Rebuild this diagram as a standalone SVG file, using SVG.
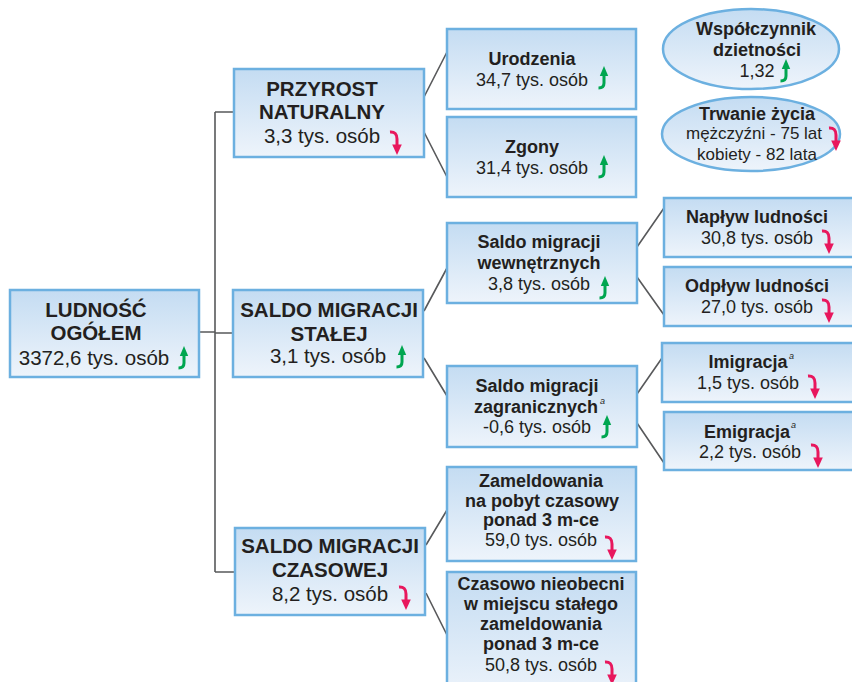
<svg xmlns="http://www.w3.org/2000/svg" xmlns:xlink="http://www.w3.org/1999/xlink" width="852" height="682" viewBox="0 0 852 682">
<style>
.box{fill:url(#g);stroke:#6cb0e0;stroke-width:2.5}
.t{font-family:"Liberation Sans",Arial,sans-serif;fill:#231f20;text-anchor:middle}
.b1{font-size:20.5px;font-weight:bold}
.n1{font-size:20.5px}
.b2{font-size:18px;font-weight:bold}
.n2{font-size:18px}
.n3{font-size:17px}
.sup{font-family:"Liberation Sans",Arial,sans-serif;font-size:9px;font-style:italic;fill:#231f20}
.ln{stroke:#58595b;stroke-width:1.6;fill:none}
</style>
<defs>
<linearGradient id="g" x1="0" y1="0" x2="0" y2="1">
<stop offset="0" stop-color="#c4dcf2"/>
<stop offset="1" stop-color="#eef4fb"/>
</linearGradient>
<symbol id="up" overflow="visible">
<path d="M6,8 L6,17 Q6,22 0.5,22" fill="none" stroke="#00a650" stroke-width="3"/>
<polygon points="1.8,10 6,0 10.2,10" fill="#00a650"/>
</symbol>
<symbol id="dn" overflow="visible">
<path d="M0,2 Q7,1.5 7,9 L7,16" fill="none" stroke="#e8175d" stroke-width="3"/>
<polygon points="2.2,14.5 7,25 11.8,14.5" fill="#e8175d"/>
</symbol>
</defs>
<rect width="852" height="682" fill="#ffffff"/>

<g id="connectors">
<path class="ln" d="M199,332 H215 M215,112 V572 M215,112 H234 M215,333 H233 M215,572 H235"/>
<path class="ln" d="M424,97 L447,52 M424,132 L447,177"/>
<path class="ln" d="M424,311 L447,268 M424,358 L447,396"/>
<path class="ln" d="M426,545 L447,510 M426,593 L447,635"/>
<path class="ln" d="M637,247 L664,208 M637,277 L664,315"/>
<path class="ln" d="M637,394 L662,358 M637,423 L664,463"/>
</g>

<g id="ludnosc">
<rect class="box" x="10" y="290" width="189" height="87"/>
<text class="t b1" x="96" y="317">LUDNOŚĆ</text>
<text class="t b1" x="96" y="340">OGÓŁEM</text>
<text class="t n1" x="94" y="365">3372,6 tys. osób</text>
<use xlink:href="#up" x="178" y="346"/>
</g>

<g id="przyrost">
<rect class="box" x="234" y="69" width="190" height="88"/>
<text class="t b1" x="322" y="96">PRZYROST</text>
<text class="t b1" x="322" y="119">NATURALNY</text>
<text class="t n1" x="322" y="143">3,3 tys. osób</text>
<use xlink:href="#dn" x="390" y="130"/>
</g>

<g id="stalej">
<rect class="box" x="233" y="290" width="190" height="87"/>
<text class="t b1" x="329" y="317">SALDO MIGRACJI</text>
<text class="t b1" x="329" y="341">STAŁEJ</text>
<text class="t n1" x="328" y="363">3,1 tys. osób</text>
<use xlink:href="#up" x="396" y="345"/>
</g>

<g id="czasowej">
<rect class="box" x="235" y="528" width="190" height="87"/>
<text class="t b1" x="330" y="553">SALDO MIGRACJI</text>
<text class="t b1" x="330" y="577">CZASOWEJ</text>
<text class="t n1" x="330" y="601">8,2 tys. osób</text>
<use xlink:href="#dn" x="399" y="585"/>
</g>

<g id="urodzenia">
<rect class="box" x="447" y="29" width="189" height="80"/>
<text class="t b2" x="532" y="65">Urodzenia</text>
<text class="t n2" x="532" y="86">34,7 tys. osób</text>
<use xlink:href="#up" x="598" y="66"/>
</g>

<g id="zgony">
<rect class="box" x="447" y="117" width="189" height="80"/>
<text class="t b2" x="532" y="153">Zgony</text>
<text class="t n2" x="532" y="174">31,4 tys. osób</text>
<use xlink:href="#up" x="598" y="155"/>
</g>

<g id="dzietnosc">
<ellipse class="box" cx="751" cy="49" rx="88" ry="40"/>
<text class="t b2" x="756" y="35">Współczynnik</text>
<text class="t b2" x="757" y="56">dzietności</text>
<text class="t n2" x="757" y="77">1,32</text>
<use xlink:href="#up" x="780" y="59"/>
</g>

<g id="trwanie">
<ellipse class="box" cx="751" cy="134" rx="89" ry="37"/>
<text class="t b2" x="757" y="120">Trwanie życia</text>
<text class="t n3" x="754" y="139">mężczyźni - 75 lat</text>
<text class="t n3" x="757" y="160">kobiety - 82 lata</text>
<use xlink:href="#dn" x="829" y="126"/>
</g>

<g id="wewn">
<rect class="box" x="447" y="223" width="190" height="80"/>
<text class="t b2" x="539" y="248">Saldo migracji</text>
<text class="t b2" x="539" y="269">wewnętrznych</text>
<text class="t n2" x="539" y="290">3,8 tys. osób</text>
<use xlink:href="#up" x="599" y="276"/>
</g>

<g id="zagr">
<rect class="box" x="447" y="366" width="190" height="81"/>
<text class="t b2" x="537" y="392">Saldo migracji</text>
<text class="t b2" x="536" y="413">zagranicznych</text>
<text class="sup" x="600" y="404">a</text>
<text class="t n2" x="537" y="433">-0,6 tys. osób</text>
<use xlink:href="#up" x="601" y="415"/>
</g>

<g id="naplyw">
<rect class="box" x="664" y="198" width="190" height="59"/>
<text class="t b2" x="757" y="223">Napływ ludności</text>
<text class="t n2" x="757" y="244">30,8 tys. osób</text>
<use xlink:href="#dn" x="822" y="229"/>
</g>

<g id="odplyw">
<rect class="box" x="664" y="267" width="190" height="59"/>
<text class="t b2" x="757" y="292">Odpływ ludności</text>
<text class="t n2" x="757" y="313">27,0 tys. osób</text>
<use xlink:href="#dn" x="822" y="298"/>
</g>

<g id="imigracja">
<rect class="box" x="662" y="343" width="192" height="59"/>
<text class="t b2" x="748" y="368">Imigracja</text>
<text class="sup" x="789" y="359">a</text>
<text class="t n2" x="748" y="389">1,5 tys. osób</text>
<use xlink:href="#dn" x="808" y="374"/>
</g>

<g id="emigracja">
<rect class="box" x="664" y="412" width="190" height="58"/>
<text class="t b2" x="747" y="438">Emigracja</text>
<text class="sup" x="791" y="428">a</text>
<text class="t n2" x="750" y="458">2,2 tys. osób</text>
<use xlink:href="#dn" x="811" y="443"/>
</g>

<g id="zameldowania">
<rect class="box" x="447" y="467" width="189" height="94"/>
<text class="t b2" x="541" y="487">Zameldowania</text>
<text class="t b2" x="542" y="507">na pobyt czasowy</text>
<text class="t b2" x="541" y="526">ponad 3 m-ce</text>
<text class="t n2" x="541" y="546">59,0 tys. osób</text>
<use xlink:href="#dn" x="605" y="535"/>
</g>

<g id="nieobecni">
<rect class="box" x="447" y="572" width="189" height="130"/>
<text class="t b2" x="541" y="590">Czasowo nieobecni</text>
<text class="t b2" x="541" y="610">w miejscu stałego</text>
<text class="t b2" x="541" y="630">zameldowania</text>
<text class="t b2" x="541" y="650">ponad 3 m-ce</text>
<text class="t n2" x="541" y="671">50,8 tys. osób</text>
<use xlink:href="#dn" x="605" y="660"/>
</g>
</svg>
